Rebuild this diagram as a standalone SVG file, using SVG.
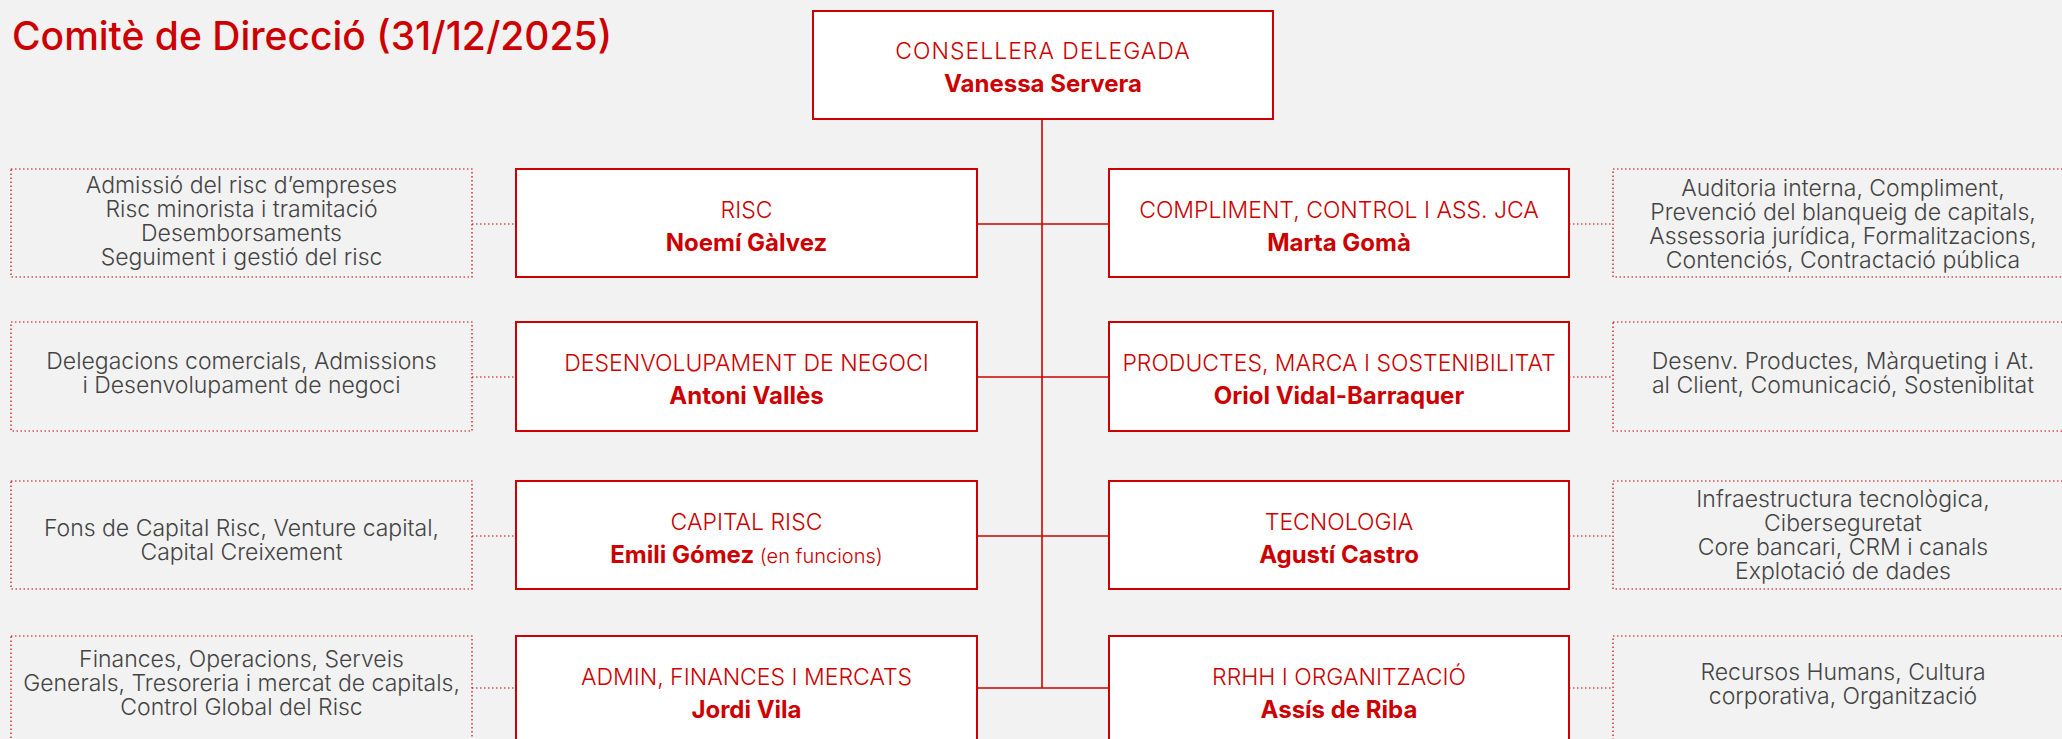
<svg xmlns="http://www.w3.org/2000/svg" width="2062" height="739" viewBox="0 0 2062 739">
<style>
.bg{fill:#f2f2f2}
.box{fill:#ffffff;stroke:#cc0000;stroke-width:2}
.dot{fill:none;stroke:#cc0000;stroke-width:1.2;stroke-dasharray:1.5 2.5}
.ln{fill:none;stroke:#cc0000;stroke-width:1.6}
.dl{fill:none;stroke:#cc0000;stroke-width:1.2;stroke-dasharray:1.5 2.5}
.hd{font-family:Inter,"Open Sans","Liberation Sans",sans-serif;font-size:39px;font-weight:500;fill:#cc0000}
.t{font-family:Inter,"Open Sans","Liberation Sans",sans-serif;font-size:23px;font-weight:300;fill:#cc0000;text-anchor:middle}
.n{font-family:Inter,"Open Sans","Liberation Sans",sans-serif;font-size:24px;font-weight:700;fill:#cc0000;text-anchor:middle}
.s{font-weight:300;font-size:20px}
.d{font-family:Inter,"Open Sans","Liberation Sans",sans-serif;font-size:23px;font-weight:300;fill:#444444;text-anchor:middle}
</style>
<rect class="bg" x="0" y="0" width="2062" height="739"/>
<text class="hd" x="12" y="50">Comitè de Direcció (31/12/2025)</text>

<g id="connectors">
<line class="ln" x1="1042" y1="119" x2="1042" y2="688"/>
<line class="ln" x1="977" y1="224" x2="1109" y2="224"/>
<line class="ln" x1="977" y1="377" x2="1109" y2="377"/>
<line class="ln" x1="977" y1="536" x2="1109" y2="536"/>
<line class="ln" x1="977" y1="688" x2="1109" y2="688"/>
<line class="dl" x1="472" y1="224" x2="516" y2="224"/>
<line class="dl" x1="472" y1="377" x2="516" y2="377"/>
<line class="dl" x1="472" y1="536" x2="516" y2="536"/>
<line class="dl" x1="472" y1="688" x2="516" y2="688"/>
<line class="dl" x1="1569" y1="224" x2="1613" y2="224"/>
<line class="dl" x1="1569" y1="377" x2="1613" y2="377"/>
<line class="dl" x1="1569" y1="536" x2="1613" y2="536"/>
<line class="dl" x1="1569" y1="688" x2="1613" y2="688"/>
</g>

<g id="ceo">
<rect class="box" x="813" y="11" width="460" height="108"/>
<text class="t" x="1043" y="59" letter-spacing="1">CONSELLERA DELEGADA</text>
<text class="n" x="1043" y="92">Vanessa Servera</text>
</g>

<g id="risc">
<rect class="box" x="516" y="169" width="461" height="108"/>
<text class="t" x="746.5" y="218">RISC</text>
<text class="n" x="746.5" y="251">Noemí Gàlvez</text>
</g>
<g id="risc-desc">
<rect class="dot" x="11" y="169" width="461" height="108"/>
<text class="d" x="241.5" y="193">Admissió del risc d’empreses</text>
<text class="d" x="241.5" y="217">Risc minorista i tramitació</text>
<text class="d" x="241.5" y="241">Desemborsaments</text>
<text class="d" x="241.5" y="265">Seguiment i gestió del risc</text>
</g>

<g id="compliment">
<rect class="box" x="1109" y="169" width="460" height="108"/>
<text class="t" x="1339" y="218">COMPLIMENT, CONTROL I ASS. JCA</text>
<text class="n" x="1339" y="251">Marta Gomà</text>
</g>
<g id="compliment-desc">
<rect class="dot" x="1613" y="169" width="470" height="108"/>
<text class="d" x="1843" y="196">Auditoria interna, Compliment,</text>
<text class="d" x="1843" y="220">Prevenció del blanqueig de capitals,</text>
<text class="d" x="1843" y="244">Assessoria jurídica, Formalitzacions,</text>
<text class="d" x="1843" y="268">Contenciós, Contractació pública</text>
</g>

<g id="negoci">
<rect class="box" x="516" y="322" width="461" height="109"/>
<text class="t" x="746.5" y="371">DESENVOLUPAMENT DE NEGOCI</text>
<text class="n" x="746.5" y="404">Antoni Vallès</text>
</g>
<g id="negoci-desc">
<rect class="dot" x="11" y="322" width="461" height="109"/>
<text class="d" x="241.5" y="369">Delegacions comercials, Admissions</text>
<text class="d" x="241.5" y="393">i Desenvolupament de negoci</text>
</g>

<g id="productes">
<rect class="box" x="1109" y="322" width="460" height="109"/>
<text class="t" x="1339" y="371">PRODUCTES, MARCA I SOSTENIBILITAT</text>
<text class="n" x="1339" y="404">Oriol Vidal-Barraquer</text>
</g>
<g id="productes-desc">
<rect class="dot" x="1613" y="322" width="470" height="109"/>
<text class="d" x="1843" y="369">Desenv. Productes, Màrqueting i At.</text>
<text class="d" x="1843" y="393">al Client, Comunicació, Sosteniblitat</text>
</g>

<g id="capital-risc">
<rect class="box" x="516" y="481" width="461" height="108"/>
<text class="t" x="746.5" y="530">CAPITAL RISC</text>
<text class="n" x="746.5" y="563">Emili Gómez <tspan class="s">(en funcions)</tspan></text>
</g>
<g id="capital-risc-desc">
<rect class="dot" x="11" y="481" width="461" height="108"/>
<text class="d" x="241.5" y="536">Fons de Capital Risc, Venture capital,</text>
<text class="d" x="241.5" y="560">Capital Creixement</text>
</g>

<g id="tecnologia">
<rect class="box" x="1109" y="481" width="460" height="108"/>
<text class="t" x="1339" y="530">TECNOLOGIA</text>
<text class="n" x="1339" y="563">Agustí Castro</text>
</g>
<g id="tecnologia-desc">
<rect class="dot" x="1613" y="481" width="470" height="108"/>
<text class="d" x="1843" y="507">Infraestructura tecnològica,</text>
<text class="d" x="1843" y="531">Ciberseguretat</text>
<text class="d" x="1843" y="555">Core bancari, CRM i canals</text>
<text class="d" x="1843" y="579">Explotació de dades</text>
</g>

<g id="admin">
<rect class="box" x="516" y="636" width="461" height="108"/>
<text class="t" x="746.5" y="685">ADMIN, FINANCES I MERCATS</text>
<text class="n" x="746.5" y="718">Jordi Vila</text>
</g>
<g id="admin-desc">
<rect class="dot" x="11" y="636" width="461" height="108"/>
<text class="d" x="241.5" y="667">Finances, Operacions, Serveis</text>
<text class="d" x="241.5" y="691">Generals, Tresoreria i mercat de capitals,</text>
<text class="d" x="241.5" y="715">Control Global del Risc</text>
</g>

<g id="rrhh">
<rect class="box" x="1109" y="636" width="460" height="108"/>
<text class="t" x="1339" y="685">RRHH I ORGANITZACIÓ</text>
<text class="n" x="1339" y="718">Assís de Riba</text>
</g>
<g id="rrhh-desc">
<rect class="dot" x="1613" y="636" width="470" height="108"/>
<text class="d" x="1843" y="680">Recursos Humans, Cultura</text>
<text class="d" x="1843" y="704">corporativa, Organització</text>
</g>
</svg>
